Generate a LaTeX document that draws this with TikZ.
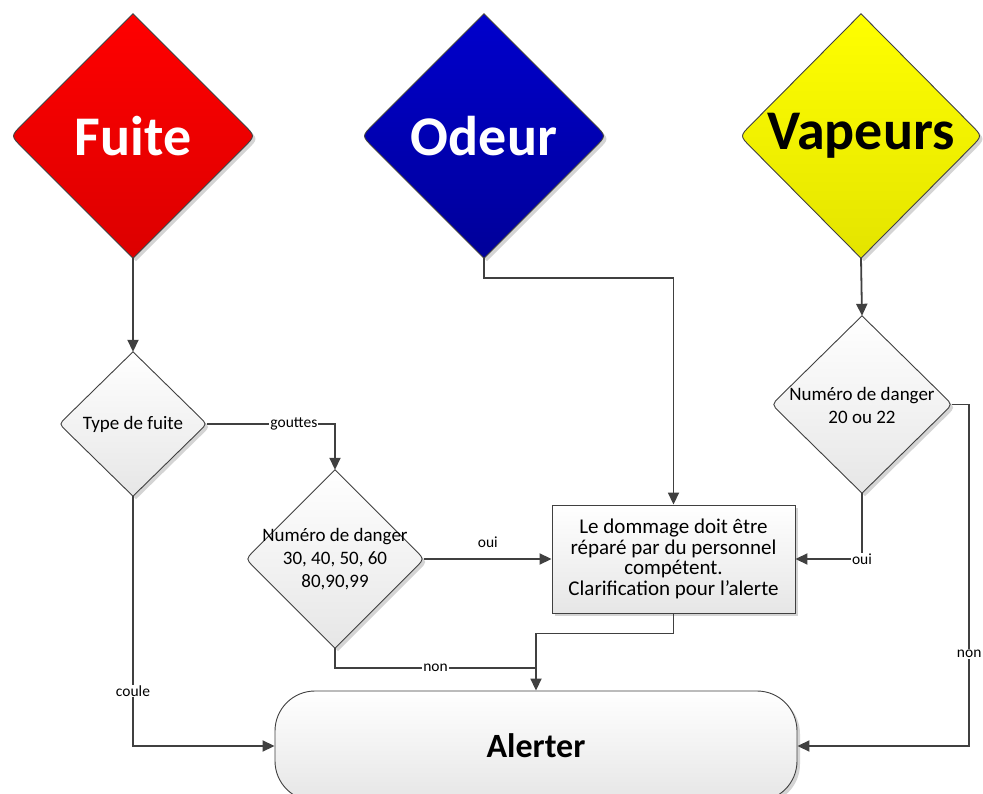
\documentclass[tikz,border=0pt]{standalone}
\usepackage{fontspec}
\setmainfont{Carlito}
\usetikzlibrary{shapes.geometric,arrows.meta,calc,shadows}
\definecolor{linec}{HTML}{404040}
\definecolor{shadowc}{HTML}{D4D4D4}
\definecolor{redtop}{HTML}{FF0000}
\definecolor{redbot}{HTML}{DC0000}
\definecolor{bluetop}{HTML}{0000CC}
\definecolor{bluebot}{HTML}{000099}
\definecolor{yeltop}{HTML}{FFFF00}
\definecolor{yelbot}{HTML}{E4E400}
\definecolor{graybot}{HTML}{E6E6E6}
\newcommand\rdia[2]{%
  \fill[shadowc, transform canvas={shift={(3,3)}}] (#1.north) -- ($(#1.west)!0.09!(#1.north)$) .. controls (#1.west) .. ($(#1.west)!0.09!(#1.south)$) -- (#1.south) -- ($(#1.east)!0.09!(#1.south)$) .. controls (#1.east) .. ($(#1.east)!0.09!(#1.north)$) -- cycle;
  \shade[#2, draw=linec, line width=0.9pt] (#1.north) -- ($(#1.west)!0.09!(#1.north)$) .. controls (#1.west) .. ($(#1.west)!0.09!(#1.south)$) -- (#1.south) -- ($(#1.east)!0.09!(#1.south)$) .. controls (#1.east) .. ($(#1.east)!0.09!(#1.north)$) -- cycle;
}
\tikzset{
  dshape/.style={shape=diamond, draw=none, inner sep=0pt},
  bigt/.style={font=\fontsize{56}{60}\selectfont\bfseries},
  smallt/.style={font=\fontsize{19}{23}\selectfont, align=center},
  arr/.style={line width=1.8pt, draw=linec, -{Triangle[length=12pt,width=11pt]}},
  plain/.style={line width=1.8pt, draw=linec},
  lbl/.style={fill=white, inner sep=1pt, font=\fontsize{15.5}{17}\selectfont},
  boxst/.style={draw=linec, line width=0.9pt, top color=white, bottom color=graybot,
    drop shadow={shadow xshift=3pt, shadow yshift=-3pt, fill=shadowc, opacity=1},
    align=center, font=\fontsize{21}{20.5}\selectfont, minimum width=243pt, minimum height=108pt, inner sep=0pt},
  alertst/.style={draw=linec, line width=0.9pt, top color=white, bottom color=graybot,
    rounded corners=40pt, drop shadow={shadow xshift=3pt, shadow yshift=-3pt, fill=shadowc, opacity=1},
    font=\fontsize{34}{36}\selectfont\bfseries, minimum width=522pt, minimum height=110pt}
}
\begin{document}
\begin{tikzpicture}[x=1pt,y=-1pt]
\clip (0,0) rectangle (983,794);
\fill[white] (0,0) rectangle (983,794);
% anchor shapes
\node[dshape, minimum width=244pt, minimum height=244pt] (fuite) at (133,136) {};
\node[dshape, minimum width=244pt, minimum height=244pt] (odeur) at (484,136) {};
\node[dshape, minimum width=242pt, minimum height=244pt] (vap) at (861,136) {};
\node[dshape, minimum width=147pt, minimum height=144pt] (tf) at (133,424) {};
\node[dshape, minimum width=178pt, minimum height=178pt] (n1) at (335,559) {};
\node[dshape, minimum width=180pt, minimum height=177pt] (sub) at (862,404.5) {};
% drawn diamonds
\rdia{fuite}{top color=redtop, bottom color=redbot}
\rdia{odeur}{top color=bluetop, bottom color=bluebot}
\rdia{vap}{top color=yeltop, bottom color=yelbot}
\rdia{tf}{top color=white, bottom color=graybot}
\rdia{n1}{top color=white, bottom color=graybot}
\rdia{sub}{top color=white, bottom color=graybot}
% texts
\node[bigt, text=white] (fuitet) at (fuite) {Fuite};
\node[bigt, text=white] (odeurt) at (odeur) {Odeur};
\node[bigt, text=black] (vapt) at (vap) {Vapeurs};
\node[smallt] (tft) at (tf) {Type de fuite};
\node[smallt] (n1t) at (n1) {Numéro de danger\\30, 40, 50, 60\\80,90,99};
\node[smallt] (subt) at ([yshift=-1pt]sub.center) {Numéro de danger\\20 ou 22};
% box and alert
\node[boxst] (box) at (673.5,559) {Le dommage doit être\\réparé par du personnel\\compétent.\\Clarification pour l’alerte};
\node[alertst] (alert) at (536,746) {Alerter};
% connectors
\draw[arr] (fuite.south) -- (tf.north);
\draw[arr] (tf.east) -| node[lbl, pos=0.34]{gouttes} (n1.north);
\draw[arr] (tf.south) |- node[lbl, pos=0.39]{coule} (alert.west);
\draw[arr] (n1.east) -- node[above=9pt, lbl, fill=none]{oui} (box.west);
\coordinate (mrg) at (536,668);
\draw[plain] (n1.south) |- node[lbl, pos=0.75]{non} (mrg);
\draw[arr] (box.south) -- ++(0,20) -| (alert.north);
\draw[arr] (odeur.south) -- ++(0,20) -| (box.north);
\draw[arr] (vap.south) -- (sub.north);
\draw[arr] (sub.south) |- node[lbl, pos=0.5]{oui} (box.east);
\draw[arr] (sub.east) -- ++(17,0) |- node[lbl, pos=0.365]{non} (alert.east);
\end{tikzpicture}
\end{document}
